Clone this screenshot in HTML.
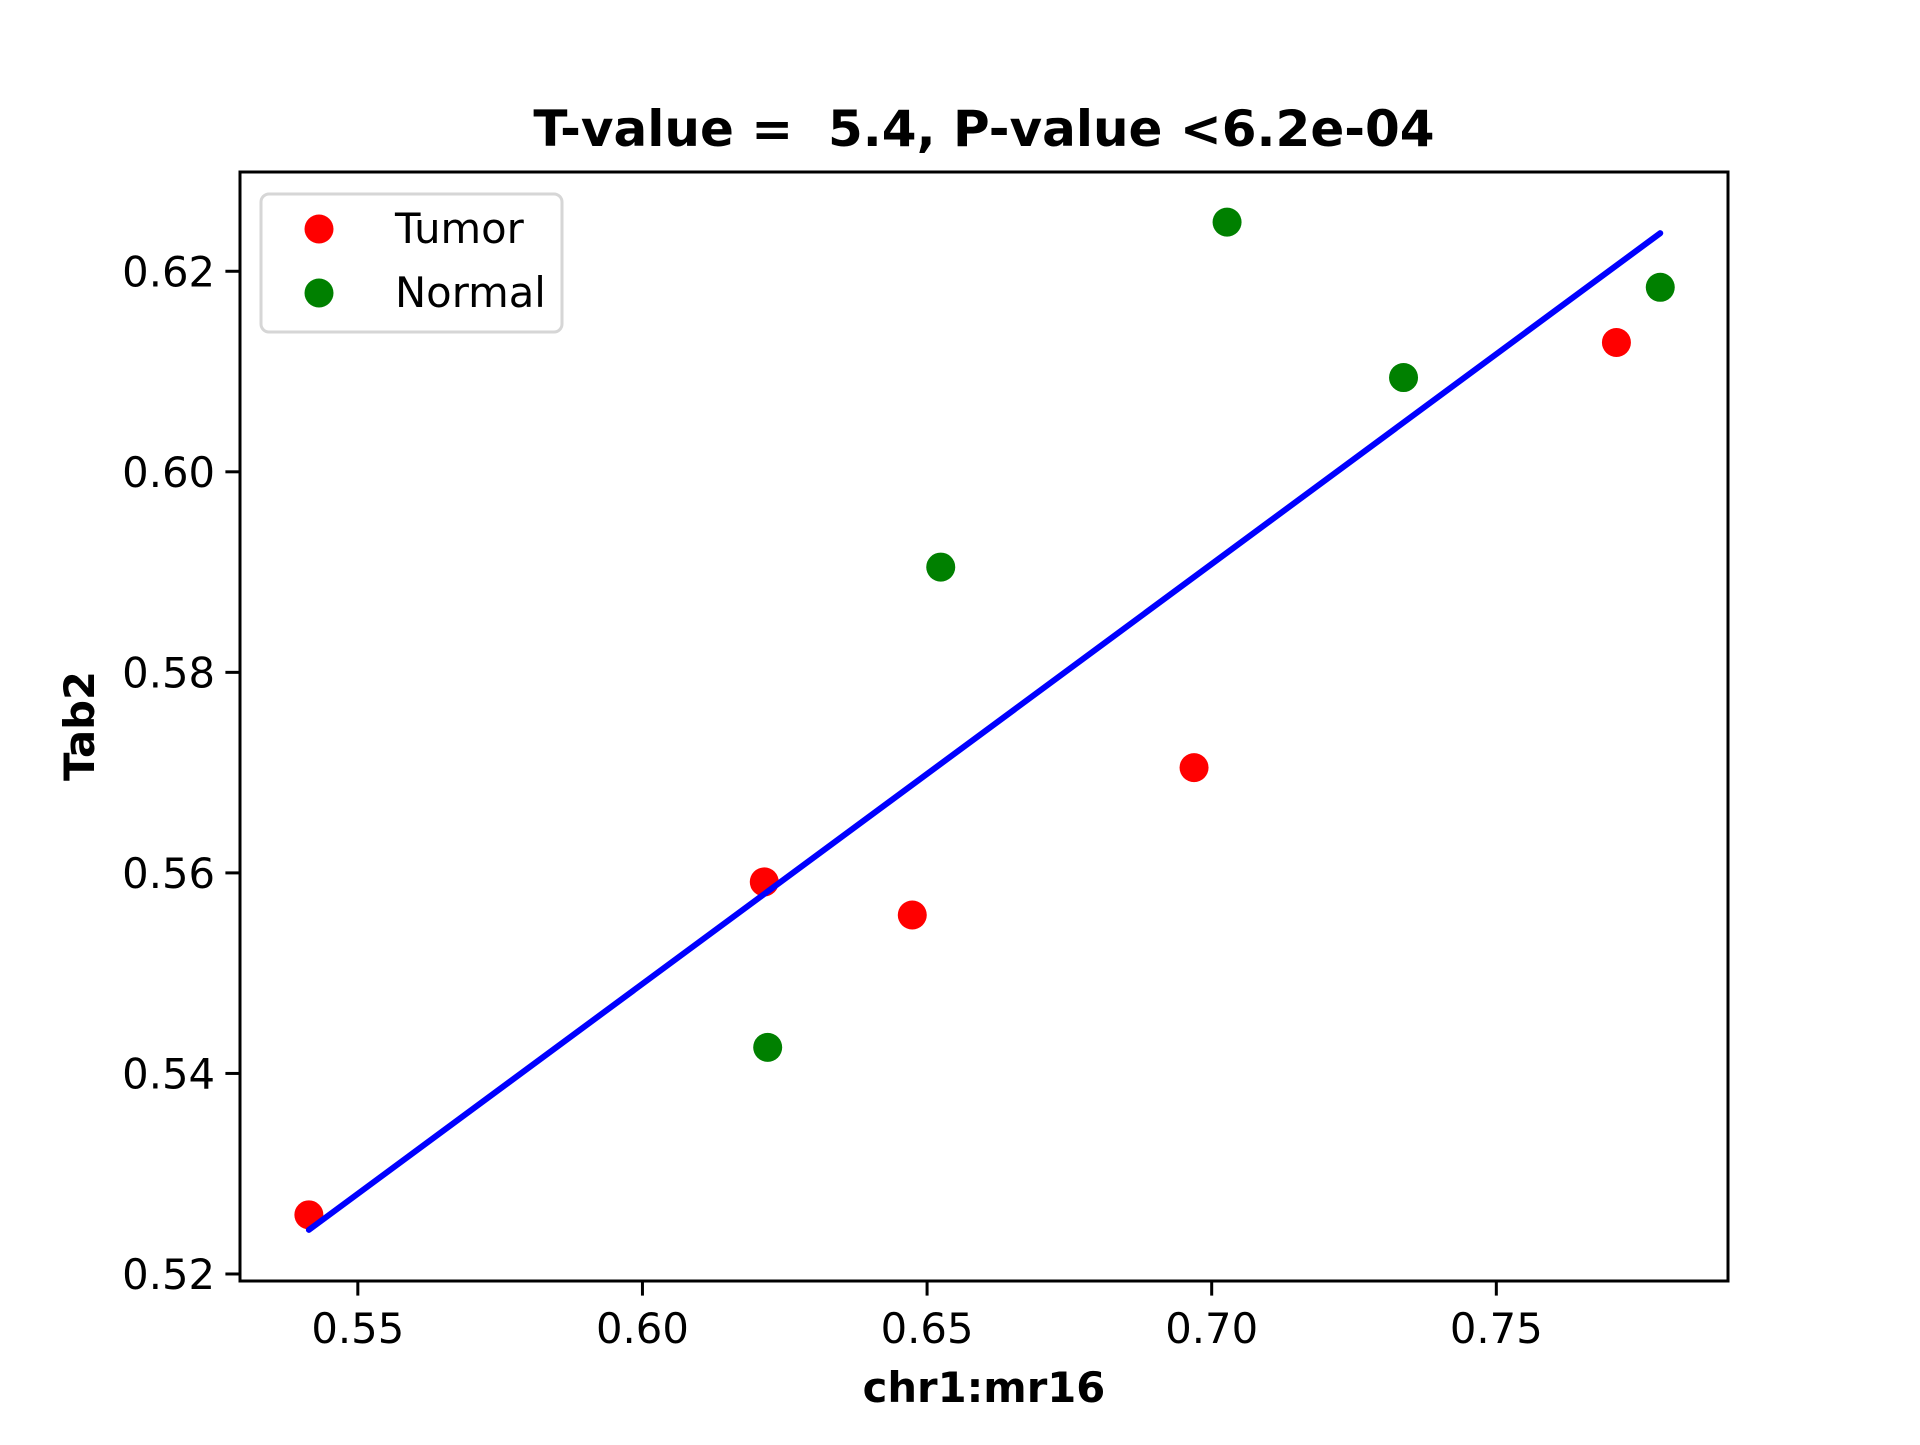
<!DOCTYPE html>
<html><head><meta charset="utf-8"><style>
html,body{margin:0;padding:0;background:#fff;}
svg text{font-family:"DejaVu Sans","Liberation Sans",sans-serif;fill:#000;}
</style></head><body>
<svg id="chart" width="1920" height="1440" viewBox="0 0 1920 1440" xmlns="http://www.w3.org/2000/svg">
<rect width="1920" height="1440" fill="#fff"/>
<text x="984" y="146" text-anchor="middle" font-size="50" font-weight="bold" style="white-space:pre" xml:space="preserve">T-value =  5.4, P-value &lt;6.2e-04</text>
<g id="marks"></g>
<g id="axes"></g>
<text x="984" y="1402" text-anchor="middle" font-size="41.7" font-weight="bold">chr1:mr16</text>
<text transform="translate(94,726) rotate(-90)" text-anchor="middle" font-size="41.7" font-weight="bold">Tab2</text>
<g>
<rect x="261" y="194" width="301" height="138" rx="8" fill="#fff" fill-opacity="0.8" stroke="#d6d6d6" stroke-width="3"/>
<circle cx="319" cy="229" r="14.5" fill="#ff0000"/>
<text x="395" y="243" font-size="41.7">Tumor</text>
<circle cx="319" cy="293" r="14.5" fill="#008000"/>
<text x="395" y="307" font-size="41.7">Normal</text>
</g>
</svg>
<script>
const tumorX = [0.5414, 0.6214, 0.6474, 0.6969, 0.7711];
const tumorY = [0.5259, 0.5591, 0.5558, 0.5705, 0.6129];
const normalX = [0.6220, 0.6524, 0.7027, 0.7337, 0.7788];
const normalY = [0.5426, 0.5905, 0.6249, 0.6094, 0.6184];
const fitX = [0.5414, 0.7788];
const fitY = [0.5244, 0.6238];
const xTicks = [0.55, 0.60, 0.65, 0.70, 0.75];
const xTickLabels = ["0.55", "0.60", "0.65", "0.70", "0.75"];
const yTicks = [0.52, 0.54, 0.56, 0.58, 0.60, 0.62];
const yTickLabels = ["0.52", "0.54", "0.56", "0.58", "0.60", "0.62"];

const L=240,R=1728,T=172,B=1281;
const xMin=0.5293,xMax=0.7907,yMin=0.5193,yMax=0.6299;
function sx(v){return L+(v-xMin)/(xMax-xMin)*(R-L);}
function sy(v){return B-(v-yMin)/(yMax-yMin)*(B-T);}
const NS="http://www.w3.org/2000/svg";
function mk(tag,attrs,parent){const e=document.createElementNS(NS,tag);for(const k in attrs)e.setAttribute(k,attrs[k]);parent.appendChild(e);return e;}
const marks=document.getElementById('marks');
const axes=document.getElementById('axes');

for(let i=0;i<tumorX.length;i++){
  const c=mk('circle',{cx:sx(tumorX[i]),cy:sy(tumorY[i]),r:14.5,fill:'#ff0000'},marks);
  
  
}
for(let i=0;i<normalX.length;i++){
  const c=mk('circle',{cx:sx(normalX[i]),cy:sy(normalY[i]),r:14.5,fill:'#008000'},marks);
  
  
}
const ln=mk('line',{x1:sx(fitX[0]),y1:sy(fitY[0]),x2:sx(fitX[1]),y2:sy(fitY[1]),stroke:'#0000ff','stroke-width':6,'stroke-linecap':'round'},marks);



const frame=mk('rect',{x:L,y:T,width:R-L,height:B-T,fill:'none',stroke:'#000','stroke-width':3},axes);


for(let i=0;i<xTicks.length;i++){
  const x=sx(xTicks[i]);
  const t=mk('line',{x1:x,y1:B,x2:x,y2:B+14.6,stroke:'#000','stroke-width':3},axes);
  
  
  const tx=mk('text',{x:x,y:B+62,'text-anchor':'middle','font-size':41.7},axes);
  tx.textContent=xTickLabels[i];
  
  
}
for(let i=0;i<yTicks.length;i++){
  const y=sy(yTicks[i]);
  const t=mk('line',{x1:L-14.6,y1:y,x2:L,y2:y,stroke:'#000','stroke-width':3},axes);
  
  
  const tx=mk('text',{x:L-25,y:y+15,'text-anchor':'end','font-size':41.7},axes);
  tx.textContent=yTickLabels[i];
  
  
}
</script>
</body></html>
